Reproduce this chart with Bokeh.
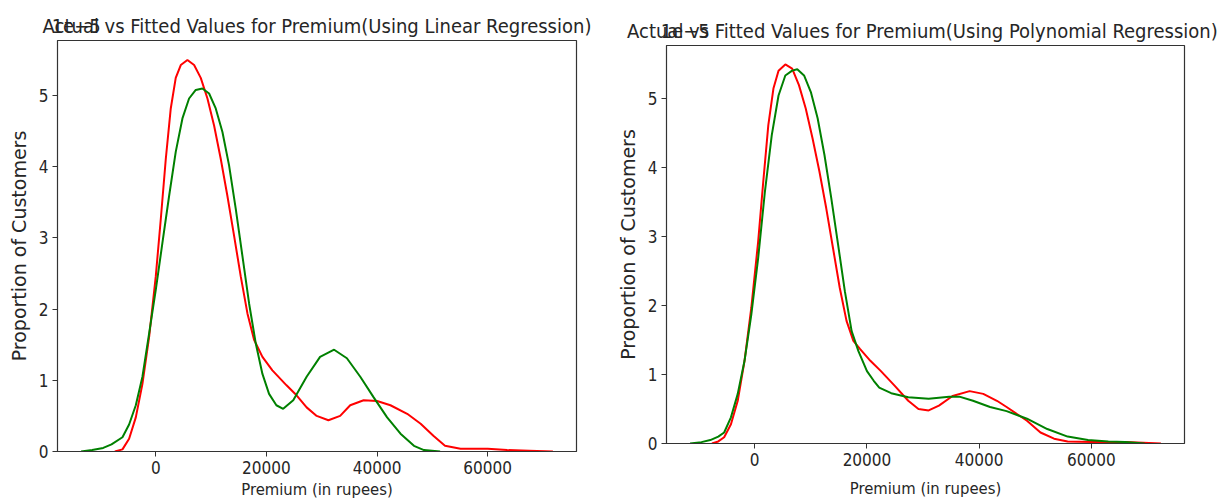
from bokeh.plotting import figure
from bokeh.layouts import row, column
from bokeh.models import (Range1d, FixedTicker, BasicTickFormatter, LinearAxis,
                          CustomJSTickFormatter)
from bokeh.embed import file_html
from bokeh.resources import INLINE

# ---- data (density values in units of 1e-5) ----
lin_actual_x = [-7400, -6020, -4820, -3610, -2410, -1200, 0, 900, 1810, 2710, 3610, 4520,
                5720, 6930, 8130, 9340, 10540, 11750, 12950, 14160, 15360, 16570, 17770,
                19280, 21080, 23640, 25450, 27270, 29090, 31210, 33330, 35150, 37580,
                40000, 42420, 45450, 47880, 50180, 52280, 55090, 60000, 63500, 67500, 71790]
lin_actual_y = [0.0, 0.03, 0.18, 0.48, 0.95, 1.61, 2.46, 3.26, 4.11, 4.82, 5.25, 5.43,
                5.50, 5.43, 5.25, 4.96, 4.58, 4.11, 3.59, 3.03, 2.46, 1.94, 1.57,
                1.33, 1.14, 0.93, 0.79, 0.62, 0.50, 0.44, 0.50, 0.65, 0.72,
                0.71, 0.65, 0.53, 0.39, 0.22, 0.08, 0.04, 0.04, 0.02, 0.01, 0.0]

lin_fitted_x = [-13500, -11500, -9500, -8000, -6020, -4820, -3610, -2410, -1200, 0, 1200,
                2410, 3610, 4820, 6020, 7230, 8430, 9640, 10840, 12050, 13250, 14460,
                15660, 16870, 18070, 19280, 20480, 21800, 23030, 24850, 27270, 29700,
                32240, 34550, 36970, 39390, 41820, 44240, 46670, 48480, 51400]
lin_fitted_y = [0.0, 0.02, 0.05, 0.10, 0.20, 0.38, 0.65, 1.05, 1.66, 2.27, 2.93,
                3.59, 4.21, 4.68, 4.96, 5.08, 5.10, 5.03, 4.82, 4.49, 4.02, 3.41,
                2.75, 2.08, 1.52, 1.09, 0.81, 0.65, 0.60, 0.72, 1.05, 1.33,
                1.43, 1.31, 1.05, 0.76, 0.48, 0.25, 0.08, 0.02, 0.0]

poly_actual_x = [-7630, -6500, -5450, -4240, -3030, -1820, -610, 610, 1520, 2420, 3330,
                 4240, 5450, 6670, 7880, 9090, 10300, 11520, 12730, 13940, 15150, 16360,
                 17580, 18790, 20610, 22490, 24920, 27360, 29180, 31000, 32830, 35260,
                 38300, 40730, 43160, 44890, 48520, 50930, 53350, 55770, 60000, 66050,
                 72400]
poly_actual_y = [0.0, 0.03, 0.09, 0.28, 0.62, 1.20, 1.97, 2.93, 3.80, 4.62, 5.15,
                 5.41, 5.50, 5.44, 5.20, 4.86, 4.43, 3.95, 3.42, 2.84, 2.26, 1.78,
                 1.49, 1.37, 1.20, 1.05, 0.84, 0.62, 0.50, 0.48, 0.55, 0.69,
                 0.76, 0.72, 0.62, 0.53, 0.33, 0.16, 0.07, 0.03, 0.02, 0.02,
                 0.0]

poly_fitted_x = [-11530, -9500, -7920, -6500, -5450, -4240, -3030, -1820, -610, 610, 1820,
                 3030, 4240, 5450, 6670, 7580, 8790, 10000, 11210, 12420, 13640, 14850,
                 16060, 17270, 18480, 20000, 21210, 22190, 24320, 27360, 31000, 34650,
                 36470, 38900, 41940, 44890, 48520, 52140, 55770, 59400, 63020, 66000,
                 69500]
poly_fitted_y = [0.0, 0.02, 0.05, 0.10, 0.16, 0.38, 0.72, 1.20, 1.87, 2.69, 3.66,
                 4.47, 5.05, 5.34, 5.41, 5.43, 5.34, 5.10, 4.72, 4.19, 3.56, 2.89,
                 2.21, 1.63, 1.34, 1.05, 0.91, 0.81, 0.73, 0.67, 0.65, 0.68,
                 0.68, 0.62, 0.53, 0.47, 0.36, 0.21, 0.10, 0.05, 0.03, 0.02,
                 0.0]

x_ticks = [0, 20000, 40000, 60000]
y_ticks = [0, 1, 2, 3, 4, 5]
titles = ["Actual vs Fitted Values for Premium(Using Linear Regression)",
          "Actual vs Fitted Values for Premium(Using Polynomial Regression)"]
x_label = "Premium (in rupees)"
y_label = "Proportion of Customers"
offset_text = "1e\u22125"

COND = "DejaVu Sans Condensed"
TXT = "#262626"
EDGE = "#333333"


def make_panel(title, ax, ay, fx, fy, width, borders, label_standoff, title_pos):
    xs = min(ax + fx)
    xe = max(ax + fx)
    pad = 0.05 * (xe - xs)
    x0, x1 = xs - pad, xe + pad
    ytop = 1.05 * max(ay + fy)
    bl, br, bt, bb = borders
    p = figure(width=width, height=504, output_backend="svg", toolbar_location=None,
               title=None, x_range=Range1d(x0, x1), y_range=Range1d(0, ytop),
               min_border_left=bl, min_border_right=br, min_border_top=bt,
               min_border_bottom=bb)
    p.background_fill_color = "white"
    p.border_fill_color = "white"
    p.outline_line_color = EDGE
    p.outline_line_width = 1.2
    p.xgrid.visible = False
    p.ygrid.visible = False

    for axis in (p.xaxis[0], p.yaxis[0]):
        axis.axis_line_color = EDGE
        axis.major_tick_line_color = EDGE
        axis.major_tick_out = 5
        axis.major_tick_in = 0
        axis.minor_tick_line_color = None
        axis.major_label_text_font = COND
        axis.major_label_text_font_size = "17px"
        axis.major_label_text_color = TXT
        axis.major_label_standoff = 4
        axis.axis_label_text_font_style = "normal"
        axis.axis_label_text_color = TXT

    p.xaxis.ticker = FixedTicker(ticks=x_ticks)
    p.xaxis.formatter = BasicTickFormatter(use_scientific=False)
    p.yaxis.ticker = FixedTicker(ticks=y_ticks)
    p.xaxis.axis_label = x_label
    p.xaxis.axis_label_text_font = COND
    p.xaxis.axis_label_text_font_size = "16.5px"
    p.xaxis.axis_label_standoff = label_standoff
    p.yaxis.axis_label = y_label
    p.yaxis.axis_label_text_font = "DejaVu Sans"
    p.yaxis.axis_label_text_font_size = "19px"
    p.yaxis.axis_label_standoff = 6

    # top axis: two tick labels on one row -> the chart title and the "1e-5" offset text
    t_title = x0 + title_pos * (x1 - x0)
    t_off = x0 + 0.036 * (x1 - x0)
    cut = x0 + 0.2 * (x1 - x0)
    top = LinearAxis(ticker=FixedTicker(ticks=[t_off, t_title]),
                     formatter=CustomJSTickFormatter(
                         args=dict(title=title, off=offset_text, cut=cut),
                         code="return tick > cut ? title : off"),
                     axis_line_color=None, major_tick_line_color=None,
                     minor_tick_line_color=None, major_tick_out=0, major_tick_in=0,
                     major_label_standoff=3, major_label_text_font=COND,
                     major_label_text_font_size="20px", major_label_text_color=TXT)
    p.add_layout(top, "above")

    p.line(ax, ay, line_color="#ff0000", line_width=2)
    p.line(fx, fy, line_color="#008000", line_width=2)
    return p


left = make_panel(titles[0], lin_actual_x, lin_actual_y, lin_fitted_x, lin_fitted_y,
                  610, (57, 34, 40, 53), 3, 0.5)
right = make_panel(titles[1], poly_actual_x, poly_actual_y, poly_fitted_x, poly_fitted_y,
                   608, (56, 34, 45, 61), 10, 0.494)

layout = row(column(left), column(right))
open("out.html", "w").write(file_html(layout, INLINE))
